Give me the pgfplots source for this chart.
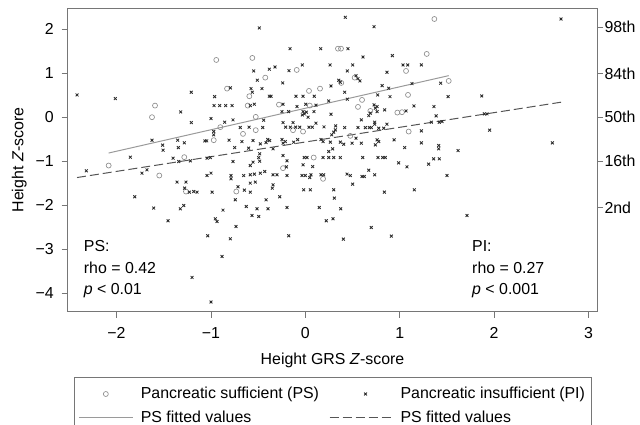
\documentclass[border=0pt]{standalone}
\usepackage{fontspec}
\setmainfont{Liberation Sans}
\usepackage{pgfplots}
\usepackage{pgfplotstable}
\pgfplotsset{compat=1.18}
\definecolor{axisgray}{HTML}{767676}
\definecolor{psgray}{HTML}{8C8C8C}
\definecolor{pidark}{HTML}{2A2A2A}
\definecolor{fitps}{HTML}{9A9A9A}
\definecolor{fitpi}{HTML}{555555}
\newcommand\fs{\fontsize{15.9}{19}\selectfont}
\pgfplotsset{
  psimg/.style={legend image code/.code={\path[draw=none,fill=none] (0pt,0pt) -- (60pt,0pt);\draw[##1, /tikz/only marks] plot coordinates {(27pt,0pt)};}},
  piimg/.style={legend image code/.code={\path[draw=none,fill=none] (0pt,0pt) -- (69pt,0pt);\draw[##1, /tikz/only marks] plot coordinates {(36pt,0pt)};}},
  psline/.style={legend image code/.code={\path[draw=none,fill=none] (0pt,0pt) -- (60pt,0pt);\draw[##1] (0pt,0pt) -- (54pt,0pt);}},
  piline/.style={legend image code/.code={\path[draw=none,fill=none] (0pt,0pt) -- (69pt,0pt);\draw[##1] (0pt,0pt) -- (63pt,0pt);}},
}

\pgfplotstableread{
x y
-1.592 0.264
-1.624 0.000
-1.282 -0.909
-0.943 1.302
-0.561 1.348
-0.091 1.075
-0.424 0.900
-0.829 0.650
-0.593 0.477
0.039 0.598
0.156 0.650
-0.610 0.264
-0.279 0.286
0.047 0.264
-0.525 0.007
-0.900 -0.227
-0.525 -0.295
-0.130 -0.295
-0.024 -0.327
-0.660 -0.380
-0.970 -0.523
0.089 -0.918
1.367 2.234
0.346 1.559
0.378 1.559
1.286 1.439
1.067 1.052
0.381 0.780
0.523 0.900
1.519 0.825
0.601 0.393
1.088 0.507
0.558 0.234
0.689 0.143
0.975 0.105
1.024 0.114
1.095 -0.327
0.477 -0.425
-2.083 -1.100
-1.547 -1.327
-1.264 -1.691
-0.236 -1.159
0.188 -1.402
-0.731 -1.691
}\psdata

\pgfplotstableread{
x y
-2.418 0.507
-2.013 0.423
-1.208 0.568
-1.320 0.120
-1.208 -0.123
-1.624 -0.523
-1.511 -0.636
-1.507 -0.750
-1.352 -0.523
-1.282 -0.584
-1.345 -0.691
-1.854 -0.909
-1.401 -0.932
-0.487 2.030
-0.162 1.559
0.163 1.559
-0.547 1.052
-0.381 1.091
-0.321 1.143
-0.173 1.059
-0.032 1.189
0.262 1.189
-0.508 0.841
-0.239 0.780
-0.794 0.666
-0.575 0.650
-0.561 0.568
-0.459 0.650
-0.381 0.477
-0.363 0.477
-0.960 0.468
-0.099 0.477
-0.024 0.477
0.095 0.477
0.272 0.711
-0.967 0.264
-0.907 0.264
-0.843 0.264
-0.776 0.264
-0.583 0.264
-0.540 0.295
-0.236 0.295
-0.088 0.241
0.004 0.295
0.113 0.273
0.248 0.370
-0.999 -0.032
-0.766 -0.061
-0.441 -0.068
-0.024 0.127
-0.011 0.075
-0.032 0.052
0.011 0.114
-0.247 0.127
-0.176 0.127
0.092 0.127
0.029 0.000
0.272 0.068
-0.854 -0.114
-0.970 -0.327
-0.970 -0.402
-0.689 -0.236
-0.596 -0.227
-0.451 -0.236
-0.236 -0.123
-0.130 -0.123
-0.208 -0.227
-0.159 -0.227
-0.102 -0.227
-0.059 -0.227
0.039 -0.227
0.074 -0.227
0.113 -0.136
0.198 -0.220
0.322 -0.198
-1.063 -0.539
-1.044 -0.539
-0.808 -0.523
-0.671 -0.555
-0.554 -0.532
-0.477 -0.607
-0.416 -0.577
-0.398 -0.509
-0.377 -0.532
-0.247 -0.509
-0.212 -0.555
-0.236 -0.591
-0.123 -0.568
-0.081 -0.509
0.166 -0.509
0.188 -0.555
0.265 -0.568
0.280 -0.402
-0.748 -0.691
-0.600 -0.705
-0.483 -0.834
-0.494 -0.918
-0.342 -0.720
-0.236 -0.873
0.248 -0.782
-1.041 -0.932
-1.006 -0.918
-0.011 -0.918
0.018 -0.918
0.188 -0.918
0.248 -0.918
0.301 -0.918
0.424 2.273
0.728 2.059
0.452 1.559
0.611 1.370
0.922 1.400
0.502 1.189
0.445 1.052
1.035 1.189
1.085 1.189
1.229 1.189
0.865 1.023
0.354 0.841
0.371 0.795
0.537 0.945
0.558 0.877
0.579 0.825
0.813 0.718
0.883 0.659
1.130 0.764
1.434 0.773
0.417 0.568
0.445 0.409
0.767 0.507
0.897 0.468
1.512 0.468
0.728 0.280
0.760 0.241
0.742 0.205
0.689 0.091
0.760 0.127
0.841 0.166
1.067 0.143
1.151 0.257
1.363 0.241
0.672 0.036
0.593 -0.061
1.385 0.030
0.735 -0.114
0.318 -0.289
0.301 -0.341
0.417 -0.236
0.558 -0.236
0.636 -0.236
0.678 -0.236
0.699 -0.236
0.735 -0.159
0.778 -0.250
0.831 -0.250
0.865 -0.159
1.335 -0.114
1.419 -0.114
1.448 -0.100
1.229 -0.311
0.537 -0.477
0.371 -0.568
0.407 -0.614
0.495 -0.591
0.593 -0.591
0.760 -0.516
0.778 -0.555
0.742 -0.630
0.940 -0.516
1.229 -0.584
1.413 -0.645
1.413 -0.720
1.053 -0.691
1.618 -0.759
0.290 -0.720
0.371 -0.918
0.608 -0.918
0.770 -0.918
0.820 -0.918
0.847 -0.918
1.360 -0.948
1.419 -0.948
2.709 2.234
1.869 0.484
1.896 0.075
1.925 0.075
1.953 -0.295
2.617 -0.584
-2.320 -1.220
-1.730 -1.273
-1.677 -1.198
-1.341 -1.009
-1.218 -0.993
-1.359 -1.477
-1.264 -1.477
-1.278 -1.614
-1.229 -1.705
-1.182 -1.691
-1.147 -1.705
-1.807 -1.811
-1.606 -2.068
-1.324 -2.084
-1.288 -2.009
-1.454 -2.357
-1.200 -3.645
-0.194 -0.993
-0.766 -1.009
-0.583 -1.100
-0.554 -1.023
-0.201 -1.130
-0.024 -1.084
0.078 -1.123
-1.041 -1.327
-0.999 -1.273
-0.787 -1.327
-0.787 -1.402
-0.653 -1.327
-0.583 -1.311
-0.540 -1.295
-0.477 -1.273
-0.430 -1.236
-0.342 -1.311
-0.300 -1.311
-0.194 -1.327
-0.035 -1.327
0.000 -1.327
0.047 -1.373
0.060 -1.311
0.166 -1.311
0.195 -1.311
-0.583 -1.500
-0.530 -1.477
-0.342 -1.539
-0.350 -1.614
-0.713 -1.584
-0.988 -1.705
-0.646 -1.659
-0.583 -1.705
-0.017 -1.652
0.053 -1.652
0.301 -1.652
0.307 -1.841
-0.742 -1.880
-0.416 -1.880
-0.271 -1.811
-0.625 -2.032
-0.512 -2.084
-0.395 -2.084
-0.194 -2.055
0.148 -2.055
-0.872 -2.114
-0.565 -2.236
-0.494 -2.259
-0.953 -2.311
-0.935 -2.373
0.222 -2.357
0.293 -2.311
-0.734 -2.486
-1.034 -2.698
-0.794 -2.766
-0.176 -2.698
-0.882 -3.168
-0.999 -4.205
-0.483 -1.000
0.989 -1.039
1.077 -1.130
1.307 -1.068
0.442 -1.295
0.477 -1.327
0.601 -1.350
0.625 -1.350
0.672 -1.205
0.735 -1.311
1.501 -1.327
0.502 -1.523
0.837 -1.705
1.155 -1.652
0.375 -2.084
1.713 -2.236
0.699 -2.509
0.403 -2.773
0.911 -2.705
}\pidata

\begin{document}
\fs
\begin{tikzpicture}
\begin{axis}[
  at={(67.7pt,-311.7pt)}, anchor=south west,
  scale only axis, width=529.3pt, height=303.7pt,
  xmin=-2.517, xmax=3.09, ymin=-4.425, ymax=2.484,
  axis line style={axisgray, line width=0.7pt},
  tick style={axisgray, line width=0.7pt},
  tick align=outside, major tick length=6pt,
  xtick={-2,-1,0,1,2,3}, xticklabels={−2,−1,0,1,2,3},
  ytick={-4,-3,-2,-1,0,1,2}, yticklabels={−4,−3,−2,−1,0,1,2},
  xtick pos=bottom, ytick pos=left,
  xticklabel style={font=\fs, anchor=base, inner sep=0pt, yshift=-21pt},
  yticklabel style={font=\fs, anchor=east, inner sep=0pt, xshift=-7.7pt},
  legend style={font=\fs, at={(0.0119,-0.2140)}, anchor=north west,
    draw=axisgray, line width=0.7pt, inner xsep=4pt, inner ysep=8pt,
    legend columns=2, row sep=6pt,
    /tikz/every even column/.append style={column sep=8pt}},
  legend cell align=left,
  clip=false,
]
\addplot[only marks, mark=o, mark size=2.5pt, color=psgray, mark options={line width=0.65pt}, psimg]
  table[x=x,y=y] {\psdata};
\addplot[only marks, mark=x, mark size=2pt, color=pidark, mark options={line width=0.85pt}, piimg]
  table[x=x,y=y] {\pidata};
\addplot[fitps, line width=1pt, no marks, psline]
  coordinates {(-2.083,-0.815) (1.519,0.945)};
\addplot[fitpi, line width=1pt, no marks, dash pattern=on 9pt off 4pt, piline]
  coordinates {(-2.418,-1.373) (2.709,0.341)};
\legend{Pancreatic sufficient (PS), Pancreatic insufficient (PI), PS fitted values, PS fitted values}
\node[anchor=base west, inner sep=0pt] at (axis cs:-2.347,-3.055) {PS:};
\node[anchor=base west, inner sep=0pt] at (axis cs:-2.347,-3.555) {rho = 0.42};
\node[anchor=base west, inner sep=0pt] at (axis cs:-2.347,-4.040) {\textit{p} < 0.01};
\node[anchor=base west, inner sep=0pt] at (axis cs:1.766,-3.055) {PI:};
\node[anchor=base west, inner sep=0pt] at (axis cs:1.766,-3.555) {rho = 0.27};
\node[anchor=base west, inner sep=0pt] at (axis cs:1.766,-4.040) {\textit{p} < 0.001};
\end{axis}
\begin{axis}[
  at={(67.7pt,-311.7pt)}, anchor=south west,
  scale only axis, width=529.3pt, height=303.7pt,
  xmin=-2.517, xmax=3.09, ymin=-4.425, ymax=2.484,
  hide x axis, axis y line*=right,
  axis line style={axisgray, line width=0.7pt},
  tick style={axisgray, line width=0.7pt},
  tick align=outside, major tick length=6pt,
  ytick={-2.054,-0.994,0,0.994,2.054},
  yticklabels={2nd,16th,50th,84th,98th},
  yticklabel style={font=\fs, anchor=west, inner sep=0pt, xshift=1.3pt},
]
\addplot[draw=none, forget plot] coordinates {(0,0)};
\end{axis}
\node[rotate=90, anchor=base] at (23.3pt,-160pt) {Height \textit{Z}-score};
\node[anchor=base] at (332.5pt,-364.5pt) {Height GRS \textit{Z}-score};
\pgfresetboundingbox
\useasboundingbox (0pt,0pt) rectangle (640pt,-425pt);
\end{tikzpicture}
\end{document}
